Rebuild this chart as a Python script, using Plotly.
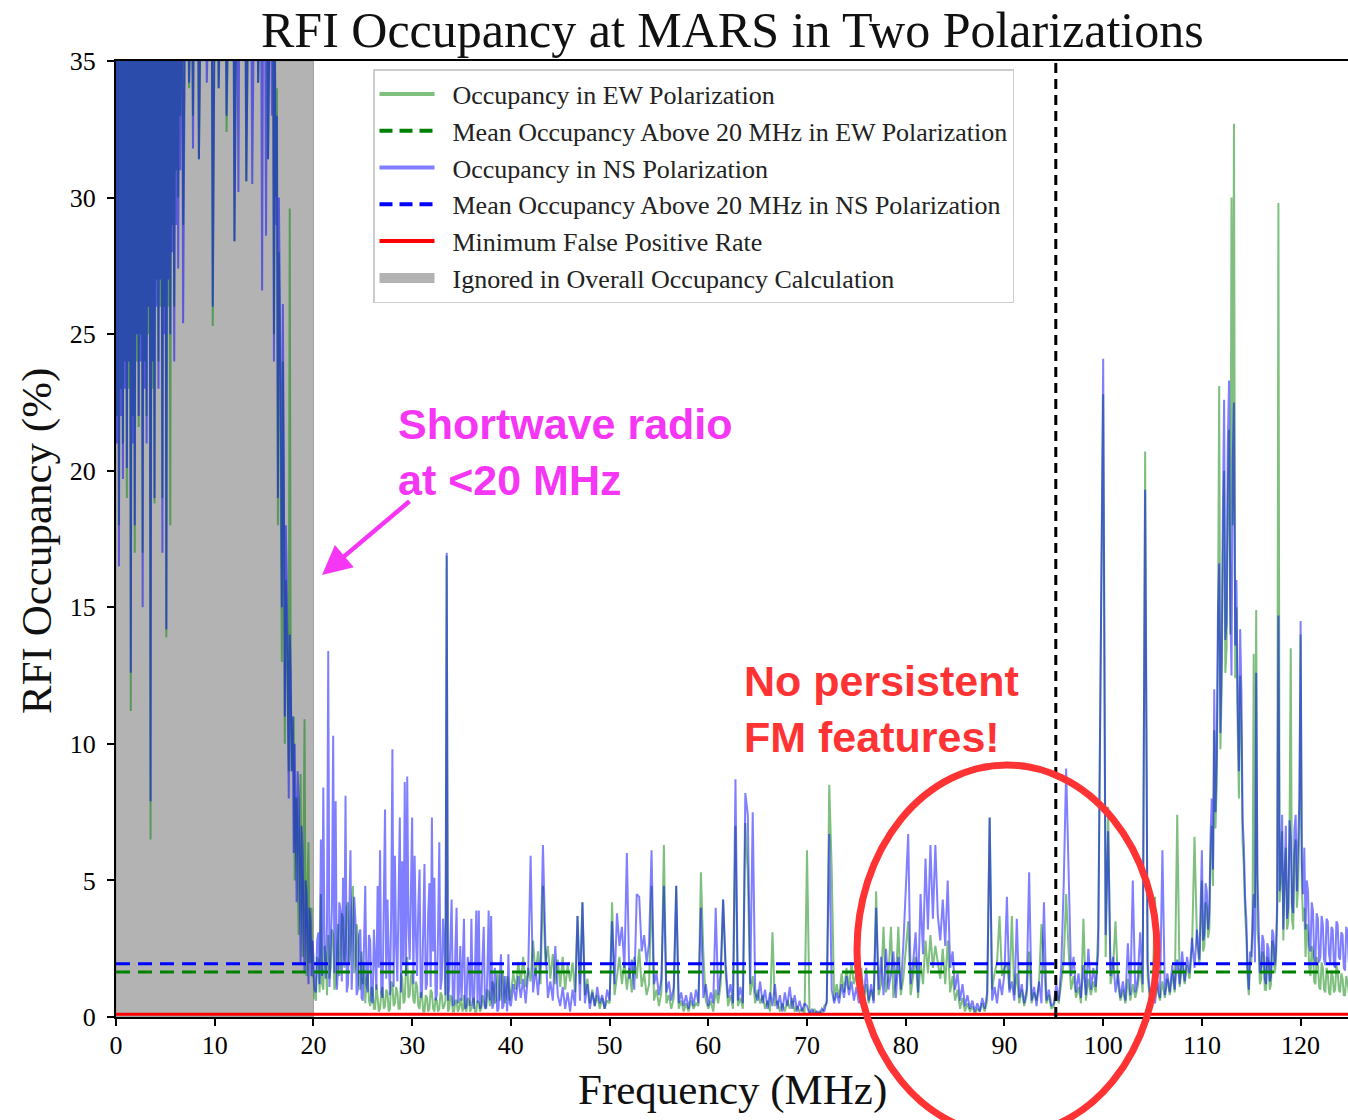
import numpy as np
import plotly.graph_objects as go

# ---------------- data ----------------
# 0-20 MHz: samples every 0.1 MHz (values > 35 run off the top of the plot); one row = 1 MHz
ew_low = [
    38, 22, 38, 18.0, 38, 23, 38, 21.0, 38, 24,
    38, 19.0, 38, 23, 38, 11.2, 38, 22, 38, 17.0,
    38, 24, 38, 21.6, 38, 25, 38, 17.0, 38, 24,
    38, 22.0, 38, 25, 38, 6.5, 38, 23, 38, 18.8,
    38, 27, 38, 24.0, 38, 26, 38, 19.0, 38, 26,
    38, 13.9, 38, 26, 38, 18.0, 38, 29, 38, 26.0,
    38, 31, 38, 30.0, 38, 33, 38, 38, 29.0, 38,
    38, 38, 38, 38, 34.0, 38, 38, 38, 33.0, 38,
    38, 38, 38, 38, 31.4, 38, 38, 38, 38, 38,
    38, 38, 38, 38, 38, 38, 38, 38, 25.3, 38,
    38, 38, 38, 38, 34.0, 38, 38, 38, 38, 38,
    38, 38, 32.4, 38, 38, 38, 38, 38, 38, 38,
    28.4, 38, 38, 38, 38, 38, 38, 38, 38, 38,
    38, 38, 30.6, 38, 38, 38, 38, 38, 38, 38,
    38, 38, 38, 38, 34.2, 38, 38, 38, 38, 38,
    38, 38, 38, 38, 31.4, 38, 38, 38, 38, 38,
    25.0, 36, 30, 34.0, 18.0, 28, 24.0, 20, 13.0, 24,
    19.0, 10.0, 16, 14.0, 11, 9, 29.6, 12, 9.0, 10,
    11.0, 5.0, 8, 8.0, 6, 3.0, 7, 8.9, 4, 2.2,
    6, 10.9, 3, 1.5, 5, 6.4, 2, 2.0, 4, 1.5,
]
ns_low = [
    38, 21, 38, 16.5, 38, 22, 38, 19.7, 38, 23,
    38, 20.1, 38, 24, 38, 12.6, 38, 21, 38, 18.0,
    38, 25, 38, 22.0, 38, 24, 38, 15.0, 38, 23,
    38, 21.0, 38, 26, 38, 7.9, 38, 24, 38, 19.0,
    38, 26, 38, 23.0, 38, 27, 38, 17.0, 38, 25,
    38, 14.2, 38, 27, 38, 25.0, 38, 28, 38, 24.0,
    38, 29, 38, 27.4, 38, 31, 38, 38, 25.4, 38,
    38, 38, 38, 38, 34.2, 38, 38, 38, 31.8, 38,
    38, 38, 38, 38, 31.4, 38, 38, 38, 38, 38,
    38, 38, 34.2, 38, 38, 38, 38, 38, 26.0, 38,
    38, 38, 38, 38, 34.0, 38, 38, 38, 38, 38,
    38, 38, 33.0, 38, 38, 38, 38, 38, 38, 38,
    28.4, 38, 38, 38, 30.2, 38, 38, 38, 38, 38,
    38, 38, 30.6, 38, 38, 38, 38, 38, 30.5, 38,
    38, 38, 38, 38, 34.2, 38, 38, 38, 26.6, 38,
    38, 38, 28.6, 38, 31.4, 38, 38, 38, 33.0, 38,
    24.0, 35, 29, 33.0, 19.0, 30, 26.4, 22, 15.0, 26.1,
    20, 11.0, 18, 16.0, 12, 8.0, 14, 12.5, 9, 11,
    6.0, 10.0, 7, 4.2, 9, 8.0, 5, 2.0, 7, 6.0,
    3, 1.6, 5, 4.5, 2.5, 1.2, 4, 3.5, 1.5, 2.8,
]

# 20-40 MHz: samples every 0.125 MHz; one row = 5 MHz
ew_mid = [
    1.5, 0.7, 0.6, 2.2, 2.0, 0.9, 4.5, 1.2, 1.0, 2.6, 2.2, 0.8, 3.0, 1.4, 1.8, 3.2, 3.0, 1.0, 1.2, 2.4,
    3.4, 1.5, 2.0, 3.8, 3.6, 1.8, 2.4, 4.0, 4.2, 1.9, 2.5, 3.9, 4.8, 1.6, 1.9, 3.4, 3.0, 1.2, 1.0, 2.4,
    1.2, 2.0, 0.5, 1.4, 1.6, 0.6, 0.4, 1.1, 1.0, 0.3, 0.3, 1.2, 0.8, 0.2, 0.3, 0.9, 1.1, 0.3, 0.4, 1.0,
    0.9, 0.2, 0.3, 1.3, 1.2, 0.4, 0.5, 1.1, 0.9, 0.3, 0.3, 1.6, 1.4, 0.5, 0.6, 1.8, 2.2, 0.7, 0.8, 1.5,
    1.6, 0.6, 0.5, 1.3, 1.1, 0.4, 0.3, 0.9, 0.8, 0.2, 0.2, 0.8, 0.7, 0.2, 0.3, 1.0, 0.9, 0.3, 0.2, 0.7,
    0.6, 0.2, 0.3, 0.9, 0.8, 0.3, 0.4, 0.6, 16.9, 0.2, 0.3, 0.8, 0.7, 0.2, 0.2, 0.6, 0.6, 0.2, 0.3, 0.7,
    0.4, 0.2, 0.8, 0.3, 0.2, 0.7, 0.6, 0.2, 0.3, 0.6, 0.7, 0.2, 0.2, 0.6, 0.5, 0.2, 0.3, 0.8, 0.6, 0.3,
    0.4, 1.0, 0.9, 0.4, 0.5, 1.3, 1.2, 0.5, 0.6, 1.6, 1.5, 0.6, 0.8, 1.7, 1.4, 0.5, 0.7, 1.5, 1.3, 0.6,
]
ns_mid = [
    2.2, 1.0, 0.9, 2.8, 3.1, 1.2, 6.5, 1.5, 8.4, 2.5, 1.4, 3.4, 13.4, 1.1, 2.6, 4.0, 10.3, 1.6, 7.9, 1.0,
    1.8, 4.2, 3.9, 1.3, 5.1, 2.0, 8.1, 0.9, 1.2, 3.5, 6.1, 1.0, 2.4, 4.4, 3.6, 0.8, 1.0, 3.0, 3.2, 0.7,
    0.6, 2.4, 4.8, 1.2, 0.9, 3.0, 2.8, 0.6, 0.5, 3.2, 2.2, 1.0, 4.8, 1.8, 6.1, 0.9, 0.7, 3.6, 7.6, 1.4,
    4.3, 2.2, 0.8, 3.8, 9.8, 1.1, 5.9, 2.6, 1.3, 4.4, 7.3, 0.9, 5.7, 2.0, 8.6, 1.5, 8.8, 3.4, 2.1, 4.6,
    7.3, 1.2, 5.9, 3.0, 1.5, 4.0, 5.4, 0.7, 0.9, 3.3, 5.6, 1.0, 1.2, 3.8, 4.9, 1.1, 7.3, 2.4, 5.1, 0.6,
    0.8, 3.1, 6.4, 1.0, 1.4, 3.6, 2.6, 0.8, 17.0, 0.6, 1.1, 2.8, 4.3, 0.4, 0.5, 2.4, 4.0, 0.5, 0.9, 2.6,
    0.6, 2.0, 3.6, 0.3, 0.4, 2.2, 1.8, 0.4, 3.6, 0.8, 0.3, 1.9, 3.9, 0.5, 3.9, 0.3, 0.4, 2.1, 3.3, 0.4,
    0.3, 1.7, 3.9, 0.6, 3.7, 0.3, 0.5, 1.8, 1.2, 0.2, 0.3, 1.4, 2.3, 0.3, 0.4, 1.5, 1.0, 0.2, 2.3, 0.5,
]

# 40-110 MHz: samples every 0.25 MHz; one row = 5 MHz
ew_high = [
    0.9, 1.6, 1.0, 2.0, 1.2, 2.2, 1.1, 1.8, 1.3, 2.8, 1.5, 2.4, 1.2, 4.8, 1.9, 2.6, 1.4, 2.3, 1.2, 2.1,
    1.1, 2.2, 1.0, 1.9, 1.3, 2.0, 0.9, 3.7, 1.2, 4.2, 0.8, 1.4, 0.5, 1.0, 0.4, 0.8, 0.3, 0.7, 0.3, 0.6,
    0.5, 4.2, 0.8, 1.5, 2.2, 1.2, 2.0, 1.0, 1.8, 0.9, 2.2, 1.4, 2.5, 1.1, 1.6, 0.8, 1.2, 4.8, 0.6, 1.0,
    0.4, 0.9, 6.3, 0.5, 0.8, 0.3, 0.7, 4.8, 0.3, 0.6, 0.2, 0.5, 0.2, 0.6, 0.3, 0.5, 0.4, 5.3, 2.3, 0.6,
    0.3, 0.6, 0.2, 1.0, 0.5, 1.2, 4.3, 1.6, 0.4, 0.8, 0.3, 7.0, 0.4, 0.7, 0.3, 7.1, 5.3, 0.8, 1.5, 0.5,
    1.0, 0.5, 0.8, 0.3, 0.6, 0.2, 3.1, 0.4, 0.6, 0.2, 0.5, 0.2, 0.6, 0.3, 0.7, 0.2, 0.4, 0.2, 0.3, 0.1,
    6.1, 0.2, 0.1, 0.3, 0.1, 0.2, 0.1, 0.4, 0.5, 8.5, 5.4, 0.6, 1.2, 0.7, 1.6, 0.9, 1.8, 1.0, 2.0, 1.2,
    1.6, 0.9, 1.8, 0.6, 1.2, 0.5, 1.0, 0.6, 4.6, 0.8, 1.2, 3.3, 0.9, 1.5, 3.3, 0.7, 1.3, 3.3, 0.8, 1.4,
    2.4, 3.5, 0.8, 1.5, 2.2, 0.7, 2.0, 1.2, 2.8, 1.6, 3.0, 1.8, 2.6, 2.0, 1.4, 2.5, 1.2, 2.8, 0.9, 1.5,
    0.6, 1.0, 0.3, 0.7, 0.2, 0.5, 0.2, 0.4, 0.1, 0.3, 0.2, 0.5, 0.2, 0.6, 7.3, 1.0, 1.6, 2.0, 3.7, 1.5,
    1.8, 2.0, 1.0, 3.7, 0.8, 1.6, 0.5, 1.0, 0.4, 0.8, 2.4, 0.5, 0.9, 0.6, 1.2, 3.4, 2.0, 0.5, 0.8, 0.3,
    0.4, 0.9, 0.5, 1.2, 2.0, 4.5, 2.4, 1.0, 1.5, 0.7, 1.1, 0.5, 3.6, 0.6, 1.4, 0.8, 1.3, 0.9, 3.3, 13.1,
    22.8, 2.2, 7.7, 1.2, 1.8, 3.5, 1.2, 0.6, 1.0, 0.5, 1.4, 0.6, 1.2, 0.7, 1.1, 1.9, 0.9, 20.7, 1.5, 0.6,
    0.9, 4.4, 1.0, 0.6, 1.3, 0.7, 1.4, 0.8, 1.6, 0.9, 7.4, 1.1, 2.0, 1.2, 1.9, 1.4, 2.5, 6.6, 2.8, 1.9,
]
ns_high = [
    0.4, 1.2, 0.6, 1.5, 0.7, 1.4, 0.5, 1.6, 5.9, 0.9, 1.8, 0.8, 2.0, 6.3, 2.6, 0.7, 1.3, 0.6, 2.6, 0.8,
    0.4, 1.1, 0.3, 0.9, 0.2, 1.0, 0.4, 3.7, 0.6, 4.2, 0.5, 1.2, 0.3, 0.9, 0.4, 1.1, 0.5, 0.8, 0.3, 1.0,
    0.6, 3.5, 1.2, 3.8, 2.6, 3.3, 1.8, 6.0, 1.4, 2.1, 1.0, 4.5, 4.4, 2.4, 3.0, 2.0, 2.7, 6.1, 1.2, 1.6,
    0.8, 1.4, 4.8, 0.9, 1.3, 0.6, 1.1, 4.8, 0.5, 0.9, 0.4, 0.8, 0.3, 0.9, 0.4, 1.0, 0.5, 4.0, 0.7, 1.2,
    0.4, 0.9, 0.5, 4.0, 0.8, 1.6, 4.3, 2.0, 0.7, 1.2, 0.5, 8.7, 0.6, 1.1, 0.5, 8.2, 7.4, 1.2, 7.5, 0.9,
    0.6, 1.3, 0.5, 1.0, 0.3, 0.9, 0.4, 1.2, 0.3, 0.8, 0.2, 0.9, 0.4, 1.1, 0.3, 0.8, 0.2, 0.6, 0.2, 0.5,
    0.4, 0.1, 0.3, 0.1, 0.2, 0.1, 0.3, 0.2, 0.6, 6.7, 1.0, 0.5, 0.9, 0.5, 1.2, 0.7, 1.5, 0.8, 1.3, 0.6,
    1.1, 0.5, 1.4, 0.7, 1.8, 0.6, 1.2, 0.5, 4.0, 1.0, 2.2, 0.8, 2.5, 1.0, 1.6, 2.4, 0.7, 2.2, 1.0, 2.6,
    4.8, 6.7, 1.2, 2.0, 3.1, 0.9, 4.5, 2.3, 5.8, 3.2, 6.3, 3.6, 6.3, 3.7, 2.8, 4.3, 2.6, 5.0, 1.8, 2.4,
    1.0, 1.6, 0.6, 1.2, 0.4, 0.8, 0.3, 0.6, 0.2, 0.5, 0.2, 0.7, 0.3, 0.9, 7.3, 0.6, 1.1, 0.5, 1.4, 0.8,
    1.6, 4.4, 0.9, 1.3, 0.6, 3.6, 0.7, 1.2, 0.5, 1.0, 5.3, 0.6, 1.1, 0.4, 1.3, 0.5, 4.2, 0.6, 1.0, 0.4,
    0.5, 1.2, 0.6, 1.8, 4.8, 9.1, 5.3, 1.5, 2.2, 0.9, 1.6, 0.7, 1.9, 0.8, 2.5, 1.0, 1.8, 1.1, 2.4, 13.1,
    24.1, 3.0, 6.8, 1.5, 2.2, 0.9, 1.6, 0.7, 1.3, 0.6, 2.7, 0.8, 5.0, 0.9, 1.4, 3.1, 1.2, 19.3, 2.0, 0.7,
    1.1, 0.5, 1.3, 0.7, 6.1, 0.8, 1.6, 0.9, 1.9, 1.0, 2.1, 1.2, 2.4, 1.3, 2.2, 1.6, 2.9, 1.8, 3.2, 2.1,
]

# 110-125 MHz: samples every 0.125 MHz; one row = 5 MHz
ew_top = [
    5.0, 2.4, 2.6, 4.2, 4.0, 2.9, 3.2, 5.8, 7.0, 4.8, 10.5, 6.9, 8.5, 13.5, 23.1, 9.8, 12.0, 17.0, 20.0, 12.6,
    13.5, 19.0, 21.5, 14.0, 30.0, 18.0, 32.7, 12.4, 15.0, 10.6, 8.0, 12.5, 10.5, 6.4, 5.5, 3.8, 3.0, 1.5, 0.8, 2.0,
    2.0, 3.0, 13.3, 4.0, 14.9, 3.2, 2.6, 1.2, 1.4, 2.4, 2.2, 1.0, 1.0, 2.2, 2.0, 1.0, 1.2, 2.8, 2.6, 1.6,
    2.0, 3.8, 29.8, 4.2, 5.0, 6.8, 2.8, 5.2, 6.2, 3.2, 3.5, 6.6, 13.5, 3.6, 3.2, 6.0, 6.5, 4.0, 4.8, 7.0,
    14.0, 4.8, 3.5, 4.0, 2.2, 3.4, 3.0, 1.8, 1.5, 2.6, 2.4, 1.3, 1.2, 2.2, 2.0, 1.1, 1.0, 2.0, 1.8, 1.0,
    0.9, 1.8, 1.6, 0.9, 0.8, 1.7, 1.5, 0.9, 1.0, 1.9, 1.7, 1.0, 0.9, 1.6, 1.4, 0.8, 0.8, 1.5, 1.3, 0.9,
]
ns_top = [
    6.1, 2.8, 3.0, 4.9, 4.6, 3.2, 3.8, 6.6, 8.0, 5.4, 12.0, 7.5, 9.5, 14.8, 16.6, 10.4, 13.0, 18.5, 22.6, 13.8,
    14.5, 21.0, 23.3, 15.2, 12.5, 20.4, 22.5, 13.6, 16.0, 11.5, 9.0, 14.2, 12.0, 7.2, 6.3, 4.4, 3.6, 1.8, 1.0, 2.4,
    2.2, 3.4, 4.5, 2.0, 12.6, 5.2, 3.0, 1.6, 1.8, 3.0, 2.8, 1.4, 1.2, 2.7, 2.5, 1.3, 1.5, 3.2, 3.0, 1.9,
    2.4, 4.2, 14.7, 4.6, 5.5, 7.4, 3.2, 5.8, 7.0, 3.6, 4.0, 7.2, 6.5, 4.1, 3.8, 6.9, 7.4, 4.6, 6.0, 8.0,
    14.5, 5.6, 4.5, 6.2, 3.2, 5.0, 4.6, 2.6, 2.4, 4.2, 3.9, 2.2, 2.0, 3.8, 3.6, 2.0, 2.2, 3.7, 3.4, 2.1,
    1.9, 3.6, 3.5, 2.3, 2.0, 3.3, 3.2, 1.9, 1.8, 3.5, 3.4, 2.2, 2.1, 3.1, 3.0, 1.8, 1.7, 3.3, 3.1, 2.0,
]

SEGMENTS = [  # (start MHz, step MHz) for low, mid, high, top sample blocks
    (0.0, 0.1), (20.0, 0.125), (40.0, 0.25), (110.0, 0.125),
]
CUTOFF = 20.0            # MHz, ignored below
MEAN_EW = 1.65           # %
MEAN_NS = 1.95           # %
MIN_FALSE_POS = 0.1      # %
FM_MARK = 95.2           # MHz, vertical dashed line
X_MAX = 124.8
Y_MAX = 35
x_ticks = list(range(0, 121, 10))
y_ticks = list(range(0, 36, 5))

ns_blocks = [ns_low, ns_mid, ns_high, ns_top]
ew_blocks = [ew_low, ew_mid, ew_high, ew_top]
freq = np.concatenate([s + np.arange(len(b)) * d for (s, d), b in zip(SEGMENTS, ns_blocks)]).round(4)
ew = np.concatenate([np.array(b, dtype=float) for b in ew_blocks])
ns = np.concatenate([np.array(b, dtype=float) for b in ns_blocks])

# ---------------- styles ----------------
SERIF = "Liberation Serif"
SANS = "Liberation Sans"
EW_COL = "rgba(0,128,0,0.5)"
NS_COL = "rgba(0,0,255,0.5)"
GRAY = "#b3b3b3"
GRAY_EDGE = "#8f8f8f"
MAGENTA = "#f536f5"
RED_TXT = "#ff3333"

fig = go.Figure()

# ignored region
fig.add_trace(go.Scatter(x=[0, CUTOFF, CUTOFF, 0, 0], y=[0, 0, Y_MAX, Y_MAX, 0],
                         mode="lines", fill="toself", fillcolor=GRAY,
                         line=dict(color=GRAY_EDGE, width=0.8),
                         showlegend=False, hoverinfo="skip"))
# occupancy curves
fig.add_trace(go.Scatter(x=freq, y=ew, mode="lines", line=dict(color=EW_COL, width=2),
                         showlegend=False))
fig.add_trace(go.Scatter(x=freq, y=ns, mode="lines", line=dict(color=NS_COL, width=2),
                         showlegend=False))
# means
fig.add_trace(go.Scatter(x=[0, X_MAX], y=[MEAN_EW, MEAN_EW], mode="lines",
                         line=dict(color="#008000", width=3, dash="14px,8px"), showlegend=False))
fig.add_trace(go.Scatter(x=[0, X_MAX], y=[MEAN_NS, MEAN_NS], mode="lines",
                         line=dict(color="#0000ff", width=3, dash="14px,8px"), showlegend=False))
# minimum false positive rate
fig.add_trace(go.Scatter(x=[0, X_MAX], y=[MIN_FALSE_POS, MIN_FALSE_POS], mode="lines",
                         line=dict(color="red", width=3), showlegend=False))
# FM band marker
fig.add_trace(go.Scatter(x=[FM_MARK, FM_MARK], y=[0, Y_MAX], mode="lines",
                         line=dict(color="black", width=3, dash="10px,6px"), showlegend=False))

# legend-only entries
SP = "\u2002"
leg = [
    ("Occupancy in EW Polarization", dict(color=EW_COL, width=4)),
    ("Mean Occupancy Above 20 MHz in EW Polarization", dict(color="#008000", width=4, dash="13px,7px")),
    ("Occupancy in NS Polarization", dict(color=NS_COL, width=4)),
    ("Mean Occupancy Above 20 MHz in NS Polarization", dict(color="#0000ff", width=4, dash="13px,7px")),
    ("Minimum False Positive Rate", dict(color="red", width=4)),
    ("Ignored in Overall Occupancy Calculation", dict(color=GRAY, width=16)),
]
for name, ln in leg:
    fig.add_trace(go.Scatter(x=[None], y=[None], mode="lines", name=SP + name, line=ln,
                             showlegend=True))

L, T, B = 116, 61, 103
W, H = 1348, 1120
PW, PH = W - L, H - T - B

def px(xp):
    return (xp - L) / PW

def py(yp):
    return (H - B - yp) / PH

axis_common = dict(showgrid=False, zeroline=False, showline=True, linecolor="black",
                   linewidth=2, ticks="outside", ticklen=7, tickwidth=1.5, tickcolor="black",
                   tickfont=dict(family=SERIF, size=26, color="black"))

fig.update_layout(
    width=W, height=H,
    margin=dict(l=L, r=0, t=T, b=B),
    paper_bgcolor="white", plot_bgcolor="white",
    xaxis=dict(range=[0, X_MAX], tickvals=x_ticks, mirror=True, ticklabelstandoff=-3, **axis_common),
    yaxis=dict(range=[0, Y_MAX], tickvals=y_ticks, ticklabelstandoff=6, **axis_common),
    legend=dict(x=px(373), y=py(69), xanchor="left", yanchor="top",
                bgcolor="white", bordercolor="#cccccc", borderwidth=1.5,
                font=dict(family=SERIF, size=26, color="#222222"),
                itemwidth=55),
    showlegend=True,
)

anns = [
    dict(text="RFI Occupancy at MARS in Two Polarizations", x=0.5, y=py(30),
         font=dict(family=SERIF, size=50, color="#111111"), xanchor="center", yanchor="middle"),
    dict(text="Frequency (MHz)", x=0.5, y=py(1090),
         font=dict(family=SERIF, size=43, color="#111111"), xanchor="center", yanchor="middle"),
    dict(text="RFI Occupancy (%)", x=px(37), y=py(541), textangle=-90,
         font=dict(family=SERIF, size=43, color="#111111"), xanchor="center", yanchor="middle"),
    dict(text="<b>Shortwave radio<br>at &lt;20 MHz</b>", x=px(397), y=py(452), align="left",
         font=dict(family=SANS, size=43, color=MAGENTA), xanchor="left", yanchor="middle"),
    dict(text="<b>No persistent<br>FM features!</b>", x=px(743), y=py(709), align="left",
         font=dict(family=SANS, size=43, color=RED_TXT), xanchor="left", yanchor="middle"),
]
for a in anns:
    fig.add_annotation(xref="paper", yref="paper", showarrow=False, borderpad=0, **a)

# arrow toward the ignored band
fig.add_annotation(xref="paper", yref="paper", x=px(322), y=py(575), ax=89, ay=-75,
                   text="", showarrow=True, arrowhead=2, arrowsize=1.3, arrowwidth=4.5,
                   arrowcolor=MAGENTA, standoff=0)

# red ellipse
fig.add_shape(type="circle", xref="paper", yref="paper",
              x0=px(857), x1=px(1157), y0=py(1135), y1=py(765),
              line=dict(color=RED_TXT, width=7), layer="above")

fig.write_html("out.html")
